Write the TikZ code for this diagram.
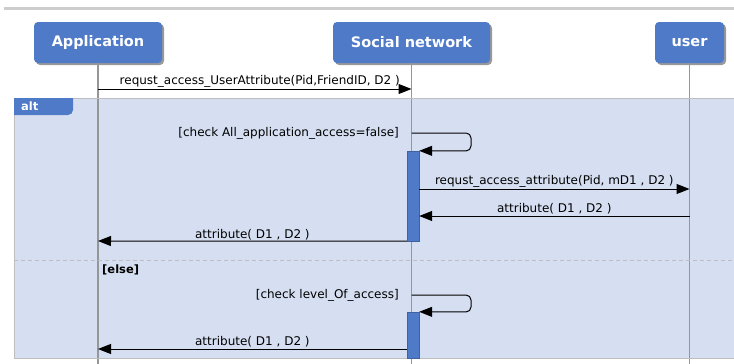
\documentclass[tikz,border=0pt]{standalone}
\usepackage{fontspec}
\setmainfont{DejaVu Sans}
\usetikzlibrary{arrows.meta,shadows}
\definecolor{actorblue}{RGB}{79,122,200}
\definecolor{altfill}{RGB}{214,223,241}
\definecolor{framegray}{RGB}{190,190,190}
\definecolor{lifegray}{RGB}{150,150,150}
\definecolor{topgray}{RGB}{205,205,205}

\begin{document}
\begin{tikzpicture}[x=1pt,y=-1pt,
  actorbox/.style={fill=actorblue, rounded corners=4pt, minimum height=41pt,
    inner sep=0pt, text=white, font=\bfseries\fontsize{14.5}{17}\selectfont,
    drop shadow={shadow xshift=2pt, shadow yshift=-2pt, fill=black, opacity=0.4}},
  lifeline/.style={draw=lifegray, line width=1.3pt},
  msg/.style={draw=black, line width=1pt, -{Triangle[length=13pt,width=10pt]}},
  msglabel/.style={font=\fontsize{12}{14}\selectfont, inner sep=1pt, anchor=south},
  guardlabel/.style={font=\fontsize{12}{14}\selectfont, inner sep=1pt, anchor=east},
  actbar/.style={fill=actorblue, draw=actorblue!80!black, line width=0.4pt,
    minimum width=12pt, inner sep=0pt},
  selfloop/.style={draw=black, line width=1pt, rounded corners=5pt, -{Triangle[length=13pt,width=10pt]}}
]
\useasboundingbox (0,0) rectangle (734,364);

% page rule along the top
\draw[topgray, line width=3pt] (4,8.5) -- (734,8.5);

% alt combined fragment background
\fill[altfill] (14,98) rectangle (740,358);

% participants
\node[actorbox, minimum width=128pt] (app) at (98,42.5) {Application};
\node[actorbox, minimum width=157pt] (sn) at (411.5,42.5) {Social network};
\node[actorbox, minimum width=69pt] (usr) at (689.5,42.5) {user};

% lifelines
\coordinate (appEnd) at (app.south |- 0,364);
\coordinate (snEnd) at (sn.south |- 0,364);
\coordinate (usrEnd) at (usr.south |- 0,364);
\draw[lifeline] (app.south) -- (appEnd);
\draw[lifeline] (sn.south) -- (snEnd);
\draw[lifeline] (usr.south) -- (usrEnd);

% alt frame outline and operand separator
\draw[framegray, line width=1pt] (740,98) -- (14,98) -- (14,358) -- (740,358);
\draw[framegray, line width=1pt, dashed, dash pattern=on 4pt off 3pt] (14,260) -- (740,260);

% alt tab
\path[fill=actorblue] (14,98) -- (73,98) -- (73,107) [rounded corners=5pt] -- (73,115) [sharp corners] -- (14,115) -- cycle;
\node[font=\bfseries\fontsize{11.5}{13}\selectfont, text=white, anchor=west, inner sep=0pt] (altlbl) at (21,106) {alt};
\node[font=\bfseries\fontsize{11.5}{13}\selectfont, anchor=west, inner sep=0pt] (elselbl) at (102,270) {[else]};

% activation bars
\node[actbar, minimum height=90pt] (bar1) at (413,196) {};
\node[actbar, minimum height=46pt] (bar2) at (413,335) {};

% message anchors on the lifelines
\coordinate (m1a) at (app.south |- 0,89);
\coordinate (m1b) at (sn.south |- 0,89);
\coordinate (s1) at (sn.south |- 0,133);
\coordinate (m2a) at (bar1.east |- 0,189);
\coordinate (m2b) at (usr.south |- 0,189);
\coordinate (m3a) at (usr.south |- 0,216);
\coordinate (m3b) at (bar1.east |- 0,216);
\coordinate (m4a) at (bar1.south west);
\coordinate (m4b) at (app.south |- 0,241);
\coordinate (s2) at (sn.south |- 0,295);
\coordinate (m5a) at (bar2.west |- 0,349);
\coordinate (m5b) at (app.south |- 0,349);

% messages
\draw[msg] (m1a) -- node[msglabel, xshift=5pt] {requst\_access\_UserAttribute(Pid,FriendID, D2 )} (m1b);

\draw[selfloop] (s1) -- (471,133) -- (471,151) -- (bar1.north east);
\node[guardlabel] (g1) at (400,133) {[check All\_application\_access=false]};

\draw[msg] (m2a) -- node[msglabel] {requst\_access\_attribute(Pid, mD1 , D2 )} (m2b);
\draw[msg] (m3a) -- node[msglabel] {attribute( D1 , D2 )} (m3b);
\draw[msg] (m4a) -- node[msglabel] {attribute( D1 , D2 )} (m4b);

\draw[selfloop] (s2) -- (471,295) -- (471,312) -- (bar2.north east);
\node[guardlabel] (g2) at (400,295) {[check level\_Of\_access]};

\draw[msg] (m5a) -- node[msglabel] {attribute( D1 , D2 )} (m5b);
\end{tikzpicture}
\end{document}
